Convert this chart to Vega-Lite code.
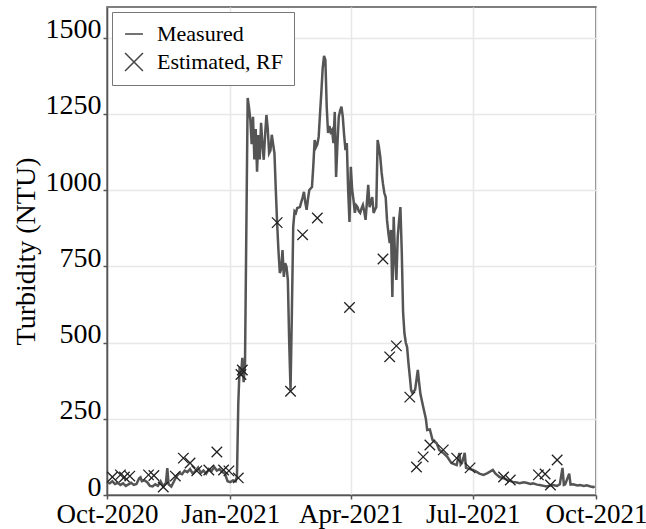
{
  "$schema": "https://vega.github.io/schema/vega-lite/v6.json",
  "width": 489,
  "height": 488,
  "autosize": {"type": "none"},
  "padding": {"left": 107, "top": 7, "right": 50, "bottom": 34},
  "background": "white",
  "config": {
    "font": "Liberation Serif",
    "view": {"stroke": "#555", "strokeWidth": 1.5},
    "axis": {
      "gridColor": "#e8e8e8", "gridWidth": 1.5,
      "domainColor": "#555", "domainWidth": 1.5,
      "tickColor": "#555", "tickWidth": 1.5, "tickSize": 4,
      "labelFont": "Liberation Serif", "labelFontSize": 28, "labelColor": "#000",
      "titleFont": "Liberation Serif", "titleFontSize": 28, "titleColor": "#000", "titleFontWeight": "normal"
    }
  },
  "datasets": {
    "measured": [
      {"date":"2020-10-01","turbidity":42},{"date":"2020-10-03","turbidity":38},{"date":"2020-10-05","turbidity":45},
      {"date":"2020-10-07","turbidity":36},{"date":"2020-10-09","turbidity":40},{"date":"2020-10-11","turbidity":33},
      {"date":"2020-10-13","turbidity":38},{"date":"2020-10-15","turbidity":30},{"date":"2020-10-17","turbidity":35},
      {"date":"2020-10-19","turbidity":40},{"date":"2020-10-21","turbidity":33},{"date":"2020-10-23","turbidity":36},
      {"date":"2020-10-25","turbidity":55},{"date":"2020-10-26","turbidity":58},{"date":"2020-10-27","turbidity":45},
      {"date":"2020-10-29","turbidity":48},{"date":"2020-10-31","turbidity":42},{"date":"2020-11-02","turbidity":30},
      {"date":"2020-11-04","turbidity":28},{"date":"2020-11-06","turbidity":35},{"date":"2020-11-08","turbidity":30},
      {"date":"2020-11-10","turbidity":45},{"date":"2020-11-12","turbidity":28},{"date":"2020-11-14","turbidity":40},
      {"date":"2020-11-15","turbidity":88},{"date":"2020-11-16","turbidity":35},{"date":"2020-11-18","turbidity":28},
      {"date":"2020-11-20","turbidity":45},{"date":"2020-11-22","turbidity":62},{"date":"2020-11-24","turbidity":72},
      {"date":"2020-11-26","turbidity":68},{"date":"2020-11-28","turbidity":80},{"date":"2020-11-30","turbidity":75},
      {"date":"2020-12-02","turbidity":85},{"date":"2020-12-04","turbidity":70},{"date":"2020-12-06","turbidity":78},
      {"date":"2020-12-08","turbidity":90},{"date":"2020-12-10","turbidity":72},{"date":"2020-12-12","turbidity":80},
      {"date":"2020-12-14","turbidity":70},{"date":"2020-12-16","turbidity":85},{"date":"2020-12-18","turbidity":78},
      {"date":"2020-12-20","turbidity":92},{"date":"2020-12-22","turbidity":80},{"date":"2020-12-24","turbidity":85},
      {"date":"2020-12-26","turbidity":75},{"date":"2020-12-28","turbidity":70},{"date":"2020-12-30","turbidity":45},
      {"date":"2021-01-01","turbidity":42},{"date":"2021-01-03","turbidity":48},{"date":"2021-01-05","turbidity":45},
      {"date":"2021-01-06","turbidity":60},{"date":"2021-01-07","turbidity":300},{"date":"2021-01-08","turbidity":420},
      {"date":"2021-01-09","turbidity":390},{"date":"2021-01-10","turbidity":450},{"date":"2021-01-11","turbidity":370},
      {"date":"2021-01-12","turbidity":430},{"date":"2021-01-14","turbidity":1302},{"date":"2021-01-15","turbidity":1270},
      {"date":"2021-01-16","turbidity":1230},{"date":"2021-01-17","turbidity":1150},{"date":"2021-01-18","turbidity":1240},
      {"date":"2021-01-19","turbidity":1100},{"date":"2021-01-20","turbidity":1200},{"date":"2021-01-21","turbidity":1060},
      {"date":"2021-01-22","turbidity":1180},{"date":"2021-01-23","turbidity":1100},{"date":"2021-01-24","turbidity":1220},
      {"date":"2021-01-25","turbidity":1150},{"date":"2021-01-26","turbidity":1099},{"date":"2021-01-27","turbidity":1180},
      {"date":"2021-01-28","turbidity":1246},{"date":"2021-01-29","turbidity":1200},{"date":"2021-01-30","turbidity":1121},
      {"date":"2021-01-31","turbidity":1130},{"date":"2021-02-01","turbidity":1181},{"date":"2021-02-02","turbidity":1150},
      {"date":"2021-02-03","turbidity":1120},{"date":"2021-02-04","turbidity":1000},{"date":"2021-02-05","turbidity":890},
      {"date":"2021-02-06","turbidity":800},{"date":"2021-02-07","turbidity":728},{"date":"2021-02-08","turbidity":740},
      {"date":"2021-02-09","turbidity":803},{"date":"2021-02-10","turbidity":715},{"date":"2021-02-11","turbidity":760},
      {"date":"2021-02-12","turbidity":748},{"date":"2021-02-13","turbidity":705},{"date":"2021-02-14","turbidity":500},
      {"date":"2021-02-15","turbidity":345},{"date":"2021-02-16","turbidity":600},{"date":"2021-02-17","turbidity":880},
      {"date":"2021-02-18","turbidity":930},{"date":"2021-02-19","turbidity":925},{"date":"2021-02-20","turbidity":941},
      {"date":"2021-02-22","turbidity":944},{"date":"2021-02-23","turbidity":960},{"date":"2021-02-24","turbidity":975},
      {"date":"2021-02-25","turbidity":994},{"date":"2021-02-26","turbidity":960},{"date":"2021-02-27","turbidity":935},
      {"date":"2021-02-28","turbidity":970},{"date":"2021-03-01","turbidity":1000},{"date":"2021-03-03","turbidity":1010},
      {"date":"2021-03-04","turbidity":1080},{"date":"2021-03-05","turbidity":1164},{"date":"2021-03-06","turbidity":1141},
      {"date":"2021-03-07","turbidity":1150},{"date":"2021-03-08","turbidity":1174},{"date":"2021-03-09","turbidity":1250},
      {"date":"2021-03-10","turbidity":1321},{"date":"2021-03-11","turbidity":1400},{"date":"2021-03-12","turbidity":1440},
      {"date":"2021-03-13","turbidity":1426},{"date":"2021-03-14","turbidity":1273},{"date":"2021-03-15","turbidity":1187},
      {"date":"2021-03-16","turbidity":1210},{"date":"2021-03-17","turbidity":1190},{"date":"2021-03-18","turbidity":1197},
      {"date":"2021-03-19","turbidity":1154},{"date":"2021-03-20","turbidity":1256},{"date":"2021-03-21","turbidity":1043},
      {"date":"2021-03-22","turbidity":1150},{"date":"2021-03-23","turbidity":1240},{"date":"2021-03-24","turbidity":1260},
      {"date":"2021-03-25","turbidity":1273},{"date":"2021-03-26","turbidity":1240},{"date":"2021-03-27","turbidity":1180},
      {"date":"2021-03-28","turbidity":1131},{"date":"2021-03-29","turbidity":1154},{"date":"2021-03-30","turbidity":1000},
      {"date":"2021-03-31","turbidity":895},{"date":"2021-04-01","turbidity":1076},{"date":"2021-04-02","turbidity":1000},
      {"date":"2021-04-03","turbidity":967},{"date":"2021-04-04","turbidity":925},{"date":"2021-04-05","turbidity":950},
      {"date":"2021-04-06","turbidity":944},{"date":"2021-04-07","turbidity":930},{"date":"2021-04-08","turbidity":925},
      {"date":"2021-04-09","turbidity":940},{"date":"2021-04-10","turbidity":951},{"date":"2021-04-11","turbidity":930},
      {"date":"2021-04-12","turbidity":902},{"date":"2021-04-13","turbidity":960},{"date":"2021-04-14","turbidity":1017},
      {"date":"2021-04-15","turbidity":944},{"date":"2021-04-16","turbidity":960},{"date":"2021-04-17","turbidity":977},
      {"date":"2021-04-18","turbidity":925},{"date":"2021-04-19","turbidity":935},{"date":"2021-04-20","turbidity":944},
      {"date":"2021-04-21","turbidity":1164},{"date":"2021-04-22","turbidity":1140},{"date":"2021-04-23","turbidity":1108},
      {"date":"2021-04-24","turbidity":1056},{"date":"2021-04-25","turbidity":1020},{"date":"2021-04-26","turbidity":990},
      {"date":"2021-04-27","turbidity":977},{"date":"2021-04-28","turbidity":902},{"date":"2021-04-29","turbidity":860},
      {"date":"2021-04-30","turbidity":826},{"date":"2021-05-01","turbidity":869},{"date":"2021-05-02","turbidity":649},
      {"date":"2021-05-03","turbidity":912},{"date":"2021-05-04","turbidity":780},{"date":"2021-05-05","turbidity":705},
      {"date":"2021-05-06","turbidity":846},{"date":"2021-05-07","turbidity":900},{"date":"2021-05-08","turbidity":944},
      {"date":"2021-05-09","turbidity":800},{"date":"2021-05-10","turbidity":600},{"date":"2021-05-11","turbidity":531},
      {"date":"2021-05-12","turbidity":500},{"date":"2021-05-13","turbidity":485},{"date":"2021-05-14","turbidity":433},
      {"date":"2021-05-15","turbidity":390},{"date":"2021-05-16","turbidity":344},{"date":"2021-05-17","turbidity":334},
      {"date":"2021-05-18","turbidity":340},{"date":"2021-05-19","turbidity":345},{"date":"2021-05-21","turbidity":410},
      {"date":"2021-05-22","turbidity":367},{"date":"2021-05-23","turbidity":330},{"date":"2021-05-25","turbidity":289},
      {"date":"2021-05-27","turbidity":250},{"date":"2021-05-28","turbidity":213},{"date":"2021-05-30","turbidity":215},
      {"date":"2021-06-01","turbidity":180},{"date":"2021-06-04","turbidity":170},{"date":"2021-06-06","turbidity":148},
      {"date":"2021-06-09","turbidity":138},{"date":"2021-06-12","turbidity":125},{"date":"2021-06-15","turbidity":105},
      {"date":"2021-06-19","turbidity":98},{"date":"2021-06-21","turbidity":138},{"date":"2021-06-22","turbidity":100},
      {"date":"2021-06-23","turbidity":105},{"date":"2021-06-25","turbidity":138},{"date":"2021-06-26","turbidity":89},
      {"date":"2021-06-29","turbidity":85},{"date":"2021-07-01","turbidity":82},{"date":"2021-07-03","turbidity":78},
      {"date":"2021-07-06","turbidity":70},{"date":"2021-07-09","turbidity":66},{"date":"2021-07-12","turbidity":72},
      {"date":"2021-07-16","turbidity":82},{"date":"2021-07-18","turbidity":70},{"date":"2021-07-21","turbidity":59},
      {"date":"2021-07-24","turbidity":55},{"date":"2021-07-27","turbidity":49},{"date":"2021-07-31","turbidity":43},
      {"date":"2021-08-03","turbidity":41},{"date":"2021-08-05","turbidity":39},{"date":"2021-08-08","turbidity":42},
      {"date":"2021-08-10","turbidity":40},{"date":"2021-08-13","turbidity":36},{"date":"2021-08-15","turbidity":38},
      {"date":"2021-08-18","turbidity":34},{"date":"2021-08-20","turbidity":33},{"date":"2021-08-23","turbidity":30},
      {"date":"2021-08-25","turbidity":28},{"date":"2021-08-28","turbidity":31},{"date":"2021-08-30","turbidity":33},
      {"date":"2021-09-02","turbidity":30},{"date":"2021-09-04","turbidity":35},{"date":"2021-09-06","turbidity":89},
      {"date":"2021-09-07","turbidity":33},{"date":"2021-09-08","turbidity":35},{"date":"2021-09-11","turbidity":70},
      {"date":"2021-09-12","turbidity":34},{"date":"2021-09-14","turbidity":35},{"date":"2021-09-17","turbidity":31},
      {"date":"2021-09-19","turbidity":33},{"date":"2021-09-22","turbidity":30},{"date":"2021-09-24","turbidity":32},
      {"date":"2021-09-27","turbidity":28},{"date":"2021-09-29","turbidity":26},{"date":"2021-09-30","turbidity":28}
    ],
    "estimated": [
      {"date":"2020-10-05","turbidity":59,"series":"Estimated, RF"},{"date":"2020-10-11","turbidity":66,"series":"Estimated, RF"},
      {"date":"2020-10-14","turbidity":59,"series":"Estimated, RF"},{"date":"2020-10-18","turbidity":62,"series":"Estimated, RF"},
      {"date":"2020-11-01","turbidity":66,"series":"Estimated, RF"},{"date":"2020-11-05","turbidity":64,"series":"Estimated, RF"},
      {"date":"2020-11-12","turbidity":26,"series":"Estimated, RF"},{"date":"2020-11-21","turbidity":62,"series":"Estimated, RF"},
      {"date":"2020-11-27","turbidity":121,"series":"Estimated, RF"},{"date":"2020-12-02","turbidity":105,"series":"Estimated, RF"},
      {"date":"2020-12-07","turbidity":79,"series":"Estimated, RF"},{"date":"2020-12-16","turbidity":82,"series":"Estimated, RF"},
      {"date":"2020-12-22","turbidity":141,"series":"Estimated, RF"},{"date":"2020-12-27","turbidity":82,"series":"Estimated, RF"},
      {"date":"2020-12-31","turbidity":79,"series":"Estimated, RF"},{"date":"2021-01-07","turbidity":56,"series":"Estimated, RF"},
      {"date":"2021-01-09","turbidity":395,"series":"Estimated, RF"},{"date":"2021-01-10","turbidity":410,"series":"Estimated, RF"},
      {"date":"2021-02-05","turbidity":893,"series":"Estimated, RF"},{"date":"2021-02-15","turbidity":340,"series":"Estimated, RF"},
      {"date":"2021-02-24","turbidity":853,"series":"Estimated, RF"},{"date":"2021-03-07","turbidity":908,"series":"Estimated, RF"},
      {"date":"2021-03-31","turbidity":615,"series":"Estimated, RF"},{"date":"2021-04-25","turbidity":774,"series":"Estimated, RF"},
      {"date":"2021-04-30","turbidity":453,"series":"Estimated, RF"},{"date":"2021-05-05","turbidity":489,"series":"Estimated, RF"},
      {"date":"2021-05-15","turbidity":321,"series":"Estimated, RF"},{"date":"2021-05-20","turbidity":92,"series":"Estimated, RF"},
      {"date":"2021-05-25","turbidity":125,"series":"Estimated, RF"},{"date":"2021-05-30","turbidity":164,"series":"Estimated, RF"},
      {"date":"2021-06-09","turbidity":148,"series":"Estimated, RF"},{"date":"2021-06-19","turbidity":121,"series":"Estimated, RF"},
      {"date":"2021-06-29","turbidity":89,"series":"Estimated, RF"},{"date":"2021-07-24","turbidity":59,"series":"Estimated, RF"},
      {"date":"2021-07-29","turbidity":49,"series":"Estimated, RF"},{"date":"2021-08-19","turbidity":66,"series":"Estimated, RF"},
      {"date":"2021-08-24","turbidity":69,"series":"Estimated, RF"},{"date":"2021-08-28","turbidity":33,"series":"Estimated, RF"},
      {"date":"2021-09-02","turbidity":115,"series":"Estimated, RF"}
    ],
    "note": [{"label":"n = 39"}]
  },
  "encoding": {
    "x": {
      "field": "date", "type": "temporal",
      "scale": {"domain": [{"year":2020,"month":10,"date":1},{"year":2021,"month":10,"date":1}]},
      "axis": {
        "title": null, "format": "%b-%Y",
        "labelFont": "Liberation Serif", "labelFontSize": 27,
        "values": [{"year":2020,"month":10,"date":1},{"year":2021,"month":1,"date":1},{"year":2021,"month":4,"date":1},{"year":2021,"month":7,"date":1},{"year":2021,"month":10,"date":1}],
        "labelPadding": 2, "labelFlush": false, "labelOverlap": false, "labelBound": false
      }
    },
    "y": {
      "field": "turbidity", "type": "quantitative",
      "scale": {"domain": [0, 1600], "nice": false},
      "axis": {
        "title": "Turbidity (NTU)", "format": "d",
        "labelFont": "Liberation Serif", "labelFontSize": 28,
        "titleFont": "Liberation Serif", "titleFontSize": 28,
        "values": [0,250,500,750,1000,1250,1500],
        "labelBaseline": "alphabetic", "labelPadding": 2, "titlePadding": 5
      }
    }
  },
  "layer": [
    {
      "data": {"name": "measured"},
      "mark": {"type": "line", "color": "#555", "strokeWidth": 2.5, "interpolate": "linear"}
    },
    {
      "data": {"name": "estimated"},
      "mark": {"type": "point", "filled": false, "stroke": "#222", "strokeWidth": 1.3, "size": 110, "opacity": 1},
      "encoding": {
        "shape": {
          "field": "series", "type": "nominal",
          "scale": {"domain": ["Measured", "Estimated, RF"], "range": ["stroke", "M-1,-1L1,1M-1,1L1,-1"]},
          "legend": {
            "title": null, "orient": "top-left", "offset": 5,
            "padding": 11, "rowPadding": 5, "labelOffset": 12,
            "labelFont": "Liberation Serif", "labelFontSize": 22, "labelColor": "#000",
            "symbolSize": 320, "symbolStrokeColor": "#444", "symbolStrokeWidth": 1.5,
            "strokeColor": "#777", "fillColor": "white", "cornerRadius": 0
          }
        }
      }
    },
    {
      "data": {"name": "note"},
      "mark": {"type": "text", "align": "right", "baseline": "middle", "font": "Liberation Serif", "fontSize": 22, "fontWeight": "bold", "color": "#000"},
      "encoding": {
        "x": {"datum": {"year":2021,"month":9,"date":28}, "type": "temporal"},
        "y": {"datum": 1541, "type": "quantitative"},
        "text": {"field": "label", "type": "nominal"}
      }
    }
  ]
}
